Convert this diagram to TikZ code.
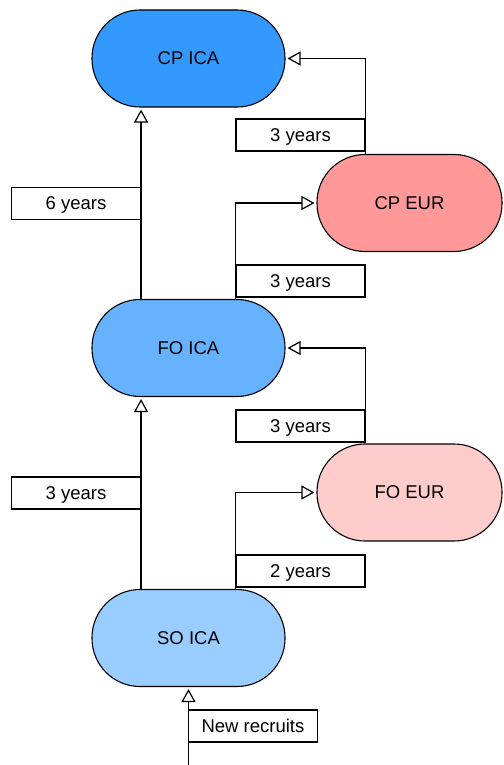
\documentclass[tikz,border=0pt]{standalone}
\usepackage{fontspec}
\setmainfont{Liberation Sans}
\usepackage{xcolor}
\usetikzlibrary{calc,arrows.meta,positioning}
\definecolor{cpica}{RGB}{51,153,255}
\definecolor{foica}{RGB}{102,178,255}
\definecolor{soica}{RGB}{153,204,255}
\definecolor{cpeur}{RGB}{255,153,153}
\definecolor{foeur}{RGB}{255,204,204}
\tikzset{
	stage/.style={draw,line width=1.1pt,rounded corners=48pt,minimum width=193pt,minimum height=97pt,inner sep=0pt,text depth=0pt},
	eurstage/.style={stage,minimum width=185pt},
	yearbox/.style={draw,fill=white,line width=1.1pt,minimum width=129pt,minimum height=32pt,inner sep=0pt,text depth=0pt},
	flow/.style={line width=1.2pt,shorten >=2pt,-{Triangle[open,length=13pt,width=14pt,line width=1.2pt]}}
}
\begin{document}
\begin{tikzpicture}[x=1pt,y=-1pt,font=\fontsize{18.5}{22}\selectfont]
				\useasboundingbox (0,0) rectangle (503,765);
				% 各级岗位
				\node[stage,fill=cpica] (cp) at (188.5,58.5) {CP ICA};
				\node[eurstage,fill=cpeur] (cpe) at (409.5,203) {CP EUR};
				\node[stage,fill=foica] (fo) at (188.5,348) {FO ICA};
				\node[eurstage,fill=foeur] (foe) at (409.5,492.5) {FO EUR};
				\node[stage,fill=soica] (so) at (188.5,638) {SO ICA};
				% 年限标注
				\node[yearbox] (y1) at (300.5,135) {3 years};
				\node[yearbox] (y6) at (76,203.5) {6 years};
				\node[yearbox] (y2) at (300.5,281) {3 years};
				\node[yearbox] (y3) at (300.5,426) {3 years};
				\node[yearbox] (y4) at (76,493) {3 years};
				\node[yearbox] (y5) at (300.5,571) {2 years};
				\node[yearbox] (nr) at (253,726) {New recruits};
				\coordinate (src) at (188.5,765);
				% 晋升路径
				\draw[flow] (src) -- (so.south);
				\draw[flow] (so.north -| y4.east) -- (fo.south -| y4.east);
				\draw[flow] (so.north -| y5.west) |- (foe.west);
				\draw[flow] (foe.north -| y3.east) |- (fo.east);
				\draw[flow] (fo.north -| y6.east) -- (cp.south -| y6.east);
				\draw[flow] (fo.north -| y2.west) |- (cpe.west);
				\draw[flow] (cpe.north -| y1.east) |- (cp.east);
\end{tikzpicture}
\end{document}
